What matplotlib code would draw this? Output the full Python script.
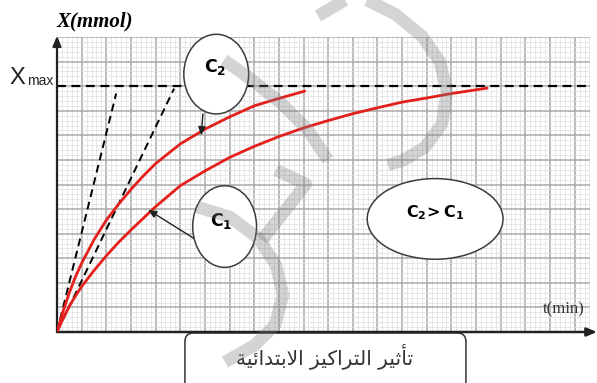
import matplotlib.pyplot as plt
from matplotlib.patches import Ellipse, FancyBboxPatch
from matplotlib.lines import Line2D
from matplotlib.ticker import MultipleLocator

# X (mmol) vs t (min); one big grid square = 1 unit on both axes
t_c2 = [0, 0.25, 0.5, 0.75, 1.0, 1.5, 2.0, 2.5, 3.0, 3.5, 4.0, 5.0, 6.0, 7.0,
        8.0, 9.0, 10.05]
x_c2 = [0, 0.85, 1.6, 2.25, 2.8, 3.75, 4.55, 5.2, 5.8, 6.35, 6.85, 7.65, 8.25,
        8.75, 9.2, 9.5, 9.8]
t_c1 = [0, 0.25, 0.5, 0.75, 1.0, 1.5, 2.0, 2.5, 3.0, 4.0, 5.0, 6.0, 7.0, 8.0,
        9.0, 10.0, 11.0, 12.0, 13.0, 14.0, 15.0, 16.0, 17.45]
x_c1 = [0, 0.55, 1.05, 1.47, 1.85, 2.5, 3.1, 3.65, 4.15, 5.1, 5.95, 6.55, 7.1,
        7.55, 7.95, 8.3, 8.6, 8.88, 9.12, 9.35, 9.52, 9.7, 9.92]
x_max = 10
# initial-rate tangents through the origin (t, X at the far end)
tan_c2 = (2.4, 9.7)
tan_c1 = (4.75, 9.9)

# presentation forms written out by hand (no shaping engine in mpl),
# logical order, reversed below for left-to-right drawing
caption = ('\ufe97\ufe84\ufe9b\ufef4\ufeae '
           '\ufe8d\ufedf\ufe98\ufeae\ufe8d\ufedb\ufef4\ufeb0 '
           '\ufe8d\ufefb\ufe91\ufe98\ufeaa\ufe8d\ufe8b\ufef4\ufe94')

W, H = 597, 383
fig = plt.figure(figsize=(W / 100, H / 100), dpi=100)
ax = fig.add_axes([57 / W, 51 / H, 533 / W, 295 / H])
ax.set_xlim(0, 533 / 24.65)
ax.set_ylim(0, 12)

ax.xaxis.set_major_locator(MultipleLocator(1))
ax.yaxis.set_major_locator(MultipleLocator(1))
ax.xaxis.set_minor_locator(MultipleLocator(0.2))
ax.yaxis.set_minor_locator(MultipleLocator(0.2))
ax.grid(which='minor', color='#dedede', lw=0.5)
ax.grid(which='major', color='#a9a9a9', lw=1.1)
ax.set_axisbelow(True)
ax.tick_params(which='both', length=0, labelbottom=False, labelleft=False)
for s in ax.spines.values():
    s.set_visible(False)

# axes with arrow heads
ax.annotate('', xy=(0, 12.05), xytext=(0, 0), annotation_clip=False,
            arrowprops=dict(arrowstyle='-|>,head_length=0.6,head_width=0.25',
                            color='#222222', lw=1.6, shrinkA=0, shrinkB=0))
ax.annotate('', xy=(540 / 24.65, 0), xytext=(0, 0), annotation_clip=False,
            arrowprops=dict(arrowstyle='-|>,head_length=0.6,head_width=0.25',
                            color='#222222', lw=1.8, shrinkA=0, shrinkB=0))

ax.axhline(x_max, color='black', lw=1.6, ls=(0, (4, 2.5)), clip_on=False)
for te, xe in (tan_c2, tan_c1):
    ax.plot([0, te], [0, xe], color='black', lw=1.4, ls=(0, (4, 2.5)))

ax.plot(t_c2, x_c2, color='#e3201c', lw=2.0, solid_capstyle='round', zorder=4)
ax.plot(t_c1, x_c1, color='#e3201c', lw=2.0, solid_capstyle='round', zorder=4)

# labels in bubbles
for (cx, cy, w, h) in [(6.46, 10.49, 2.63, 3.24), (6.80, 4.29, 2.59, 3.32),
                       (15.34, 4.60, 5.51, 3.28)]:
    ax.add_patch(Ellipse((cx, cy), w, h, facecolor='white', edgecolor='#3c3c3c',
                         lw=1.1, zorder=5, clip_on=False))
ax.text(6.42, 10.76, r'$\mathbf{C_2}$', fontsize=12.5, ha='center',
        va='center', zorder=6)
ax.text(6.68, 4.52, r'$\mathbf{C_1}$', fontsize=12.5, ha='center', va='center',
        zorder=6)
ax.text(15.34, 4.86, r'$\mathbf{C_2\!>C_1}$', fontsize=11.5, ha='center',
        va='center', zorder=6)

arrow = dict(arrowstyle='-|>,head_length=0.5,head_width=0.22', color='#222222',
             lw=1.0, shrinkA=0, shrinkB=0)
ax.annotate('', xy=(5.85, 8.0), xytext=(5.92, 8.87), arrowprops=arrow, zorder=6)
ax.annotate('', xy=(3.7, 4.97), xytext=(5.55, 3.81), arrowprops=arrow, zorder=6)

ax.text(1.55, 12.62, 'X(mmol)', fontsize=15, family='Liberation Serif',
        weight='bold', style='italic', ha='center', va='center')
ax.text(-1.92, 10.08, 'X', fontsize=17, family='Liberation Sans',
        ha='left', va='baseline', color='#222222')
ax.text(-1.2, 10.05, 'max', fontsize=10, family='Liberation Sans',
        ha='left', va='baseline', color='#222222')
ax.text(20.55, 0.9, 't(min)', fontsize=12, family='Liberation Serif',
        ha='center', va='center', color='#333333')

ax.add_patch(FancyBboxPatch((5.19, -3.0), 11.4, 2.96,
                            boxstyle='round,pad=0,rounding_size=0.35',
                            facecolor='white', edgecolor='#333333', lw=1.1,
                            clip_on=False))
ax.text(10.85, -1.0, caption[::-1], fontsize=14.5, family='DejaVu Sans',
        ha='center', va='center', color='#333333')

# faint grey watermark strokes (figure pixels)
marks = [
    [(345, 0), (318, 16)],
    [(367, 0), (395, 14), (422, 36), (440, 62), (447, 92), (442, 124),
     (425, 147), (404, 160), (388, 165)],
    [(224, 60), (252, 80), (282, 104), (308, 130), (328, 160)],
    [(276, 170), (306, 184), (262, 240)],
    [(197, 207), (230, 217), (258, 238), (276, 265), (283, 295),
     (275, 325), (255, 345), (225, 362)],
]
for m in marks:
    xs = [p[0] / W for p in m]
    ys = [1 - p[1] / H for p in m]
    fig.add_artist(Line2D(xs, ys, transform=fig.transFigure, color='#7a7a7a',
                          alpha=0.32, lw=9, solid_capstyle='butt',
                          solid_joinstyle='round', zorder=10))

fig.savefig('out.png', dpi=100)
